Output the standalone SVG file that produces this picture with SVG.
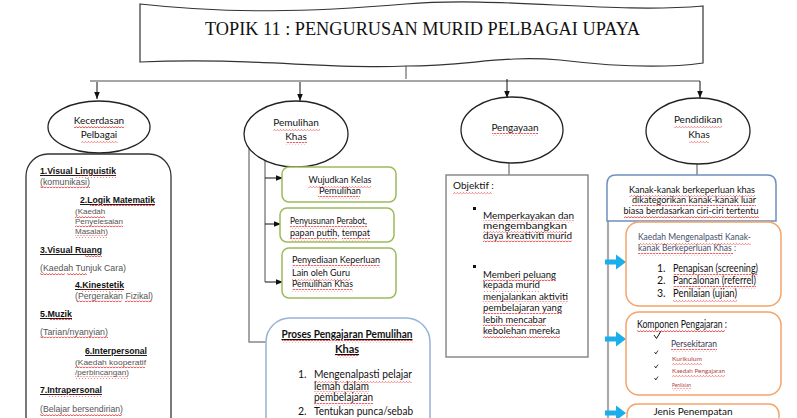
<svg xmlns="http://www.w3.org/2000/svg" width="797" height="418" viewBox="0 0 797 418">
<defs>
<marker id="ah" viewBox="0 0 10 10" refX="10" refY="5" markerWidth="7" markerHeight="7" orient="auto" markerUnits="userSpaceOnUse"><path d="M0,1 L10,5 L0,9 Z" fill="#111"/></marker>
<pattern id="w" width="3" height="3" patternUnits="userSpaceOnUse"><path d="M0,2.2 L1.5,0.6 L3,2.2" fill="none" stroke="#e21b1b" stroke-width="0.8"/></pattern>
<style>
.t{font-family:"Lato","Liberation Sans",sans-serif;fill:#111}
.a{font-family:"Liberation Sans","Arial",sans-serif;fill:#111}
.b{font-weight:bold;text-decoration:underline}
.g{fill:#555}
.sq{fill:url(#w)}
.ln{stroke:#888;stroke-width:1.5;fill:none}
.ar{stroke:#111;stroke-width:1;fill:none;marker-end:url(#ah)}
.gb{fill:#fff;stroke:#9bbb59;stroke-width:1.5}
.ob{fill:#fff;stroke:#f5a46a;stroke-width:1.5}
.ca{fill:#1aaeea}
.el{fill:#fff;stroke:#222;stroke-width:1.3}
</style>
</defs>

<g id="connectors">
<path class="ln" d="M406,66 V79"/>
<path class="ln" d="M90,81 H700"/>
<path class="ar" d="M97,82 V99"/>
<path class="ar" d="M300,82 V101"/>
<path class="ar" d="M507,79 V98"/>
<path class="ar" d="M700,81 V98"/>
<path class="ln" d="M249,148 V342 H266" stroke-width="2"/>
<path class="ln" d="M265,158 V282" stroke-width="1.2"/>
<path class="ar" d="M265,178 H283" stroke="#888"/>
<path class="ar" d="M265,224 H281" stroke="#888"/>
<path class="ar" d="M265,282 H283" stroke="#888"/>
<path class="ln" d="M509,163 V175"/>
<path class="ln" d="M697,164 V175"/>
<path d="M608,221 V418" stroke="#aaa" stroke-width="2.2" fill="none"/>
<path class="ca" d="M605,259.5 H616 V254.5 L626,262 L616,269.5 V264.5 H605 Z"/>
<path class="ca" d="M605,336.5 H616 V331.5 L626,339 L616,346.5 V341.5 H605 Z"/>
<path class="ca" d="M605,410.5 H616 V405.5 L626,413 L616,420.5 V415.5 H605 Z"/>
</g>

<g id="title">
<path d="M140,4 C230,14 310,12 406,4 C500,-4 610,14 703,6 L703,63 C660,69 610,66 560,60 C500,55 470,66 406,66 C330,70 250,57 140,62 Z" fill="#fff" stroke="#333" stroke-width="1.2"/>
<text x="205" y="35" textLength="435" lengthAdjust="spacingAndGlyphs" style="font-family:'Liberation Serif','Times New Roman',serif;font-size:18px;fill:#111">TOPIK 11 : PENGURUSAN MURID PELBAGAI UPAYA</text>
</g>

<g id="kecerdasan">
<ellipse class="el" cx="99" cy="127" rx="51" ry="26"/>
<text class="t" x="99" y="124" text-anchor="middle" font-size="10">Kecerdasan</text>
<text class="t" x="99" y="138" text-anchor="middle" font-size="10">Pelbagai</text>
<rect class="sq" x="74" y="126" width="50" height="2.5"/>
<rect class="sq" x="81" y="140" width="37" height="2.5"/>
</g>

<g id="kecerdasan-list">
<rect x="26" y="154" width="145" height="300" rx="22" fill="#fff" stroke="#333" stroke-width="1.3"/>
<g font-size="9.5">
<text class="a b" x="40" y="174" textLength="76" lengthAdjust="spacingAndGlyphs">1.Visual Linguistik</text>
<text class="a g" x="40" y="185" textLength="50" lengthAdjust="spacingAndGlyphs">(komunikasi)</text>
<text class="a b" x="80" y="203" textLength="75" lengthAdjust="spacingAndGlyphs">2.Logik Matematik</text>
<text class="a b" x="40" y="253" textLength="62" lengthAdjust="spacingAndGlyphs">3.Visual Ruang</text>
<text class="a g" x="40" y="271" textLength="86" lengthAdjust="spacingAndGlyphs">(Kaedah Tunjuk Cara)</text>
<text class="a b" x="75" y="288" textLength="49" lengthAdjust="spacingAndGlyphs">4.Kinestetik</text>
<text class="a g" x="75" y="299" textLength="78" lengthAdjust="spacingAndGlyphs">(Pergerakan Fizikal)</text>
<text class="a b" x="40" y="317" textLength="32" lengthAdjust="spacingAndGlyphs">5.Muzik</text>
<text class="a g" x="40" y="335" textLength="68" lengthAdjust="spacingAndGlyphs">(Tarian/nyanyian)</text>
<text class="a b" x="85" y="354" textLength="62" lengthAdjust="spacingAndGlyphs">6.Interpersonal</text>
<text class="a b" x="40" y="393" textLength="62" lengthAdjust="spacingAndGlyphs">7.Intrapersonal</text>
<text class="a g" x="40" y="412" textLength="83" lengthAdjust="spacingAndGlyphs">(Belajar bersendirian)</text>
</g>
<g font-size="8">
<text class="a g" x="75" y="214">(Kaedah</text>
<text class="a g" x="75" y="224" textLength="48" lengthAdjust="spacingAndGlyphs">Penyelesaian</text>
<text class="a g" x="75" y="234">Masalah)</text>
<text class="a g" x="75" y="365" textLength="71" lengthAdjust="spacingAndGlyphs">(Kaedah kooperatif</text>
<text class="a g" x="75" y="375" textLength="54" lengthAdjust="spacingAndGlyphs">/perbincangan)</text>
</g>
<rect class="sq" x="75" y="175.5" width="41" height="2.5"/>
<rect class="sq" x="40" y="186.5" width="50" height="2.5"/>
<rect class="sq" x="90" y="204.5" width="65" height="2.5"/>
<rect class="sq" x="75" y="215.5" width="30" height="2.5"/>
<rect class="sq" x="75" y="225.5" width="48" height="2.5"/>
<rect class="sq" x="75" y="235.5" width="32" height="2.5"/>
<rect class="sq" x="85" y="254.5" width="17" height="2.5"/>
<rect class="sq" x="40" y="272.5" width="25" height="2.5"/>
<rect class="sq" x="67" y="272.5" width="20" height="2.5"/>
<rect class="sq" x="80" y="289.5" width="44" height="2.5"/>
<rect class="sq" x="76" y="300.5" width="46" height="2.5"/>
<rect class="sq" x="125" y="300.5" width="27" height="2.5"/>
<rect class="sq" x="50" y="318.5" width="22" height="2.5"/>
<rect class="sq" x="40" y="336.5" width="68" height="2.5"/>
<rect class="sq" x="75" y="366.5" width="70" height="2.5"/>
<rect class="sq" x="75" y="376.5" width="53" height="2.5"/>
<rect class="sq" x="48" y="394.5" width="54" height="2.5"/>
<rect class="sq" x="40" y="413.5" width="82" height="2.5"/>
</g>

<g id="pemulihan">
<ellipse class="el" cx="296" cy="134" rx="52" ry="33"/>
<text class="t" x="296" y="126" text-anchor="middle" font-size="10">Pemulihan</text>
<text class="t" x="296" y="140" text-anchor="middle" font-size="10">Khas</text>
<rect class="sq" x="273" y="128" width="47" height="2.5"/>
<rect class="sq" x="286" y="142" width="21" height="2.5"/>
</g>

<g id="wujudkan">
<rect class="gb" x="282" y="167" width="114" height="35" rx="7"/>
<text class="t" x="340" y="183" text-anchor="middle" font-size="10" textLength="63" lengthAdjust="spacingAndGlyphs">Wujudkan Kelas</text>
<text class="t" x="340" y="194" text-anchor="middle" font-size="10" textLength="42" lengthAdjust="spacingAndGlyphs">Pemulihan</text>
<rect class="sq" x="308" y="185" width="63" height="2.5"/>
<rect class="sq" x="318" y="196" width="42" height="2.5"/>
</g>

<g id="penyusunan">
<rect class="gb" x="280" y="208" width="114" height="34" rx="7"/>
<text class="t" x="290" y="224" font-size="10" textLength="77" lengthAdjust="spacingAndGlyphs">Penyusunan Perabot,</text>
<text class="t" x="290" y="236" font-size="10" textLength="80" lengthAdjust="spacingAndGlyphs">papan putih,  tempat</text>
<rect class="sq" x="290" y="226" width="77" height="2.5"/>
<rect class="sq" x="290" y="238" width="47" height="2.5"/>
<rect class="sq" x="342" y="238" width="28" height="2.5"/>
</g>

<g id="penyediaan">
<rect class="gb" x="282" y="248" width="114" height="50" rx="7"/>
<text class="t" x="292" y="263" font-size="10" textLength="88" lengthAdjust="spacingAndGlyphs">Penyediaan Keperluan</text>
<text class="t" x="292" y="276" font-size="10" textLength="58" lengthAdjust="spacingAndGlyphs">Lain oleh Guru</text>
<text class="t" x="292" y="287" font-size="10" textLength="61" lengthAdjust="spacingAndGlyphs">Pemulihan Khas</text>
<rect class="sq" x="292" y="265" width="88" height="2.5"/>
<rect class="sq" x="292" y="278" width="58" height="2.5"/>
<rect class="sq" x="292" y="289" width="61" height="2.5"/>
</g>

<g id="proses">
<rect x="266" y="318" width="164" height="140" rx="24" fill="#fff" stroke="#95b3d7" stroke-width="1.5"/>
<text class="t b" x="347" y="338" text-anchor="middle" font-size="11" textLength="131" lengthAdjust="spacingAndGlyphs">Proses Pengajaran Pemulihan</text>
<text class="t b" x="347" y="353" text-anchor="middle" font-size="11">Khas</text>
<g font-size="10.5">
<text class="t" x="298" y="378">1.</text>
<text class="t" x="314" y="378" textLength="98" lengthAdjust="spacingAndGlyphs">Mengenalpasti pelajar</text>
<text class="t" x="314" y="389.5" textLength="55" lengthAdjust="spacingAndGlyphs">lemah dalam</text>
<text class="t" x="314" y="401" textLength="59" lengthAdjust="spacingAndGlyphs">pembelajaran</text>
<text class="t" x="298" y="415">2.</text>
<text class="t" x="314" y="415" textLength="99" lengthAdjust="spacingAndGlyphs">Tentukan punca/sebab</text>
</g>
<rect class="sq" x="282" y="340" width="131" height="2.5"/>
<rect class="sq" x="337" y="355" width="21" height="2.5"/>
<rect class="sq" x="314" y="380" width="98" height="2.5"/>
<rect class="sq" x="314" y="391.5" width="55" height="2.5"/>
<rect class="sq" x="314" y="403" width="59" height="2.5"/>
</g>

<g id="pengayaan">
<ellipse class="el" cx="512" cy="130" rx="51" ry="33"/>
<text class="t" x="515" y="131" text-anchor="middle" font-size="10">Pengayaan</text>
<rect class="sq" x="492" y="133" width="46" height="2.5"/>
</g>

<g id="objektif">
<rect x="446" y="175" width="142" height="182" fill="#fff" stroke="#8a8a8a" stroke-width="1.5"/>
<text class="t" x="453" y="189" font-size="10">Objektif :</text>
<rect x="473" y="207" width="3" height="3" fill="#111"/>
<rect x="473" y="265" width="3" height="3" fill="#111"/>
<g font-size="9.5" style="fill:#1c2440">
<text class="t" x="483" y="218.5" textLength="91" lengthAdjust="spacingAndGlyphs">Memperkayakan dan</text>
<text class="t" x="483" y="228.5" textLength="84" lengthAdjust="spacingAndGlyphs">mengembangkan</text>
<text class="t" x="483" y="238.5" textLength="89" lengthAdjust="spacingAndGlyphs">daya kreativiti murid</text>
<text class="t" x="483" y="277.5" textLength="73" lengthAdjust="spacingAndGlyphs">Memberi peluang</text>
<text class="t" x="483" y="288" textLength="57" lengthAdjust="spacingAndGlyphs">kepada murid</text>
<text class="t" x="483" y="299.5" textLength="85" lengthAdjust="spacingAndGlyphs">menjalankan aktiviti</text>
<text class="t" x="483" y="311" textLength="79" lengthAdjust="spacingAndGlyphs">pembelajaran yang</text>
<text class="t" x="483" y="322.5" textLength="63" lengthAdjust="spacingAndGlyphs">lebih mencabar</text>
<text class="t" x="483" y="334" textLength="77" lengthAdjust="spacingAndGlyphs">kebolehan mereka</text>
</g>
<rect class="sq" x="453" y="191" width="39" height="2.5"/>
<rect class="sq" x="483" y="220.5" width="91" height="2"/>
<rect class="sq" x="483" y="230.5" width="84" height="2"/>
<rect class="sq" x="483" y="240.5" width="89" height="2.5"/>
<rect class="sq" x="483" y="279.5" width="73" height="2"/>
<rect class="sq" x="483" y="290" width="57" height="2"/>
<rect class="sq" x="483" y="301.5" width="85" height="2"/>
<rect class="sq" x="483" y="313" width="79" height="2"/>
<rect class="sq" x="483" y="324.5" width="63" height="2"/>
<rect class="sq" x="483" y="336" width="77" height="2.5"/>
</g>

<g id="pendidikan">
<ellipse class="el" cx="698" cy="131" rx="52" ry="33"/>
<text class="t" x="698" y="123" text-anchor="middle" font-size="10">Pendidikan</text>
<text class="t" x="699" y="138" text-anchor="middle" font-size="10">Khas</text>
<rect class="sq" x="674" y="125" width="48" height="2.5"/>
<rect class="sq" x="689" y="140" width="20" height="2.5"/>
</g>

<g id="kanak">
<path d="M607,221 V184 Q607,175 616,175 H767 Q776,175 776,184 V221 Z" fill="#fff" stroke="#6f8fbf" stroke-width="1.5"/>
<g font-size="9.3">
<text class="t" x="692" y="192.5" text-anchor="middle" textLength="126" lengthAdjust="spacingAndGlyphs">Kanak-kanak berkeperluan khas</text>
<text class="t" x="694" y="203" text-anchor="middle" textLength="124" lengthAdjust="spacingAndGlyphs">dikategorikan kanak-kanak luar</text>
<text class="t" x="691" y="214" text-anchor="middle" textLength="135" lengthAdjust="spacingAndGlyphs">biasa berdasarkan ciri-ciri tertentu</text>
</g>
<rect class="sq" x="629" y="194.5" width="126" height="2"/>
<rect class="sq" x="632" y="205" width="124" height="2"/>
<rect class="sq" x="624" y="216" width="135" height="2.5"/>
</g>

<g id="kaedah">
<rect class="ob" x="626" y="222" width="155" height="84" rx="13"/>
<text class="t" x="638" y="240" font-size="9" style="fill:#44506a" textLength="113" lengthAdjust="spacingAndGlyphs">Kaedah  Mengenalpasti Kanak-</text>
<text class="t" x="638" y="251" font-size="9" style="fill:#44506a" textLength="98" lengthAdjust="spacingAndGlyphs">kanak Berkeperluan Khas :</text>
<text class="t" x="657" y="272" font-size="10.5">1.</text>
<text class="t" x="673" y="272" font-size="10.5" textLength="85" lengthAdjust="spacingAndGlyphs">Penapisan (screening)</text>
<text class="t" x="657" y="284" font-size="10.5">2.</text>
<text class="t" x="673" y="284" font-size="10.5" textLength="83" lengthAdjust="spacingAndGlyphs">Pancalonan (referrel)</text>
<text class="t" x="657" y="297" font-size="10.5">3.</text>
<text class="t" x="673" y="297" font-size="10.5" textLength="64" lengthAdjust="spacingAndGlyphs">Penilaian (ujian)</text>
<rect class="sq" x="638" y="242" width="113" height="2.5"/>
<rect class="sq" x="638" y="253" width="95" height="2.5"/>
<rect class="sq" x="673" y="274" width="85" height="2.5"/>
<rect class="sq" x="673" y="286" width="83" height="2.5"/>
<rect class="sq" x="673" y="299" width="64" height="2.5"/>
</g>

<g id="komponen">
<rect class="ob" x="626" y="312" width="155" height="83" rx="13"/>
<text class="t" x="637" y="328" font-size="10.5" textLength="90" lengthAdjust="spacingAndGlyphs">Komponen Pengajaran :</text>
<path d="M654,335 L656.5,338.5 L661,331" stroke="#111" stroke-width="1" fill="none"/>
<text class="t" x="671" y="347" font-size="9.5" style="fill:#3a3550" textLength="46" lengthAdjust="spacingAndGlyphs">Persekitaran</text>
<path d="M654.5,352 L655.8,354 L658,350.5" stroke="#111" stroke-width="0.8" fill="none"/>
<text class="t" x="672" y="361" font-size="6" style="fill:#b0453f" textLength="30" lengthAdjust="spacingAndGlyphs">Kurikulum</text>
<path d="M654.5,366 L655.8,368 L658,364.5" stroke="#111" stroke-width="0.8" fill="none"/>
<text class="t" x="672" y="373" font-size="6" style="fill:#b0453f" textLength="53" lengthAdjust="spacingAndGlyphs">Kaedah Pengajaran</text>
<path d="M654.5,378 L655.8,380 L658,376.5" stroke="#111" stroke-width="0.8" fill="none"/>
<text class="t" x="672" y="387" font-size="6" style="fill:#b0453f" textLength="19" lengthAdjust="spacingAndGlyphs">Penilaian</text>
<rect class="sq" x="637" y="330" width="88" height="2.5"/>
<rect class="sq" x="671" y="349" width="46" height="2.5"/>
<rect class="sq" x="672" y="362.5" width="30" height="2"/>
<rect class="sq" x="672" y="374.5" width="53" height="2"/>
<rect class="sq" x="672" y="388.5" width="19" height="2"/>
</g>

<g id="jenis">
<rect class="ob" x="627" y="404" width="152" height="40" rx="10"/>
<text class="t" x="693" y="415" text-anchor="middle" font-size="10">Jenis Penempatan</text>
</g>
</svg>
